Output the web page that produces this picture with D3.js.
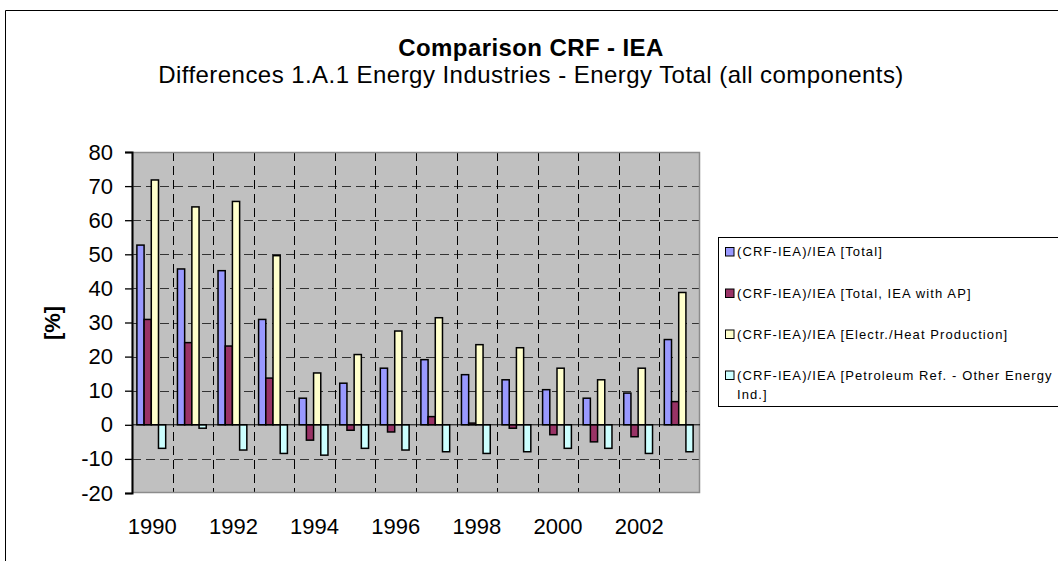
<!DOCTYPE html>
<html>
<head>
<meta charset="utf-8">
<script src="https://cdn.jsdelivr.net/npm/d3@7"></script>
<style>
  body { margin: 0; background: #fff; }
  svg { display: block; font-family: "Liberation Sans", Arial, sans-serif; }
</style>
</head>
<body>
<svg id="chart" width="1058" height="561"></svg>
<script>
const years = ["1990","1991","1992","1993","1994","1995","1996","1997","1998","1999","2000","2001","2002","2003"];
const totalVals = [52.7, 45.7, 45.2, 30.9, 7.8, 12.2, 16.6, 19.1, 14.7, 13.2, 10.3, 7.8, 9.3, 25.0];
const totalApVals = [30.9, 24.1, 23.1, 13.7, -4.5, -1.6, -2.1, 2.4, 0.5, -1.0, -2.9, -5.0, -3.5, 6.8];
const electrVals = [71.8, 63.9, 65.5, 49.6, 15.2, 20.6, 27.5, 31.4, 23.5, 22.6, 16.6, 13.2, 16.6, 38.8];
const petrolVals = [-6.9, -1.0, -7.4, -8.4, -8.9, -6.9, -7.4, -7.9, -8.4, -7.9, -6.9, -6.9, -8.4, -7.9];
const yTicks = [-20, -10, 0, 10, 20, 30, 40, 50, 60, 70, 80];
const xTickYears = ["1990","1992","1994","1996","1998","2000","2002"];

const series = [
  { name: "(CRF-IEA)/IEA [Total]", values: totalVals, color: "#9999ff" },
  { name: "(CRF-IEA)/IEA [Total, IEA with AP]", values: totalApVals, color: "#993366" },
  { name: "(CRF-IEA)/IEA [Electr./Heat Production]", values: electrVals, color: "#ffffcc" },
  { name: "(CRF-IEA)/IEA [Petroleum Ref. - Other Energy|Ind.]", values: petrolVals, color: "#ccffff" }
];

const svg = d3.select("#chart");
const plot = { left: 132, right: 700, top: 152, bottom: 493 };
const fontFam = "Liberation Sans, Arial, sans-serif";

// outer chart border (only left/top visible in the crop)
svg.append("path")
  .attr("d", "M5.5,561 L5.5,10.5 L1058,10.5")
  .attr("fill", "none").attr("stroke", "#000").attr("stroke-width", 1);

svg.append("text")
  .attr("x", 531).attr("y", 56)
  .attr("text-anchor", "middle")
  .attr("font-size", 24).attr("font-weight", "bold")
  .attr("letter-spacing", 0.4)
  .text("Comparison CRF - IEA");

svg.append("text")
  .attr("x", 531).attr("y", 82.5)
  .attr("text-anchor", "middle")
  .attr("font-size", 24)
  .attr("letter-spacing", 0.45)
  .text("Differences 1.A.1 Energy Industries - Energy Total (all components)");

const x = d3.scaleBand().domain(years).range([plot.left, plot.right]).padding(0);
const y = d3.scaleLinear().domain([-20, 80]).range([plot.bottom, plot.top]);

svg.append("rect")
  .attr("x", plot.left).attr("y", plot.top)
  .attr("width", plot.right - plot.left).attr("height", plot.bottom - plot.top)
  .attr("fill", "#c0c0c0");

// horizontal gridlines
svg.append("g")
  .selectAll("line")
  .data(yTicks.filter(d => d !== -20 && d !== 0 && d !== 80))
  .join("line")
  .attr("x1", plot.left).attr("x2", plot.right)
  .attr("y1", d => Math.round(y(d)) + 0.5).attr("y2", d => Math.round(y(d)) + 0.5)
  .attr("stroke", "#333").attr("stroke-width", 1)
  .attr("stroke-dasharray", "9 5");

// vertical gridlines at category boundaries
svg.append("g")
  .selectAll("line")
  .data(years.slice(1))
  .join("line")
  .attr("x1", d => Math.round(x(d)) + 0.5).attr("x2", d => Math.round(x(d)) + 0.5)
  .attr("y1", plot.top).attr("y2", plot.bottom)
  .attr("stroke", "#000").attr("stroke-width", 1)
  .attr("stroke-dasharray", "9 5");

// plot border
svg.append("rect")
  .attr("x", plot.left + 0.5).attr("y", plot.top + 0.5)
  .attr("width", plot.right - plot.left - 1).attr("height", plot.bottom - plot.top - 1)
  .attr("fill", "none").attr("stroke", "#8c8c8c").attr("stroke-width", 1.5);

// bars
const barW = 7.2;
const groupOffset = (x.bandwidth() - barW * 4) / 2 - 1;
series.forEach((s, i) => {
  svg.append("g")
    .selectAll("rect")
    .data(s.values)
    .join("rect")
    .attr("x", (d, j) => x(years[j]) + groupOffset + i * barW)
    .attr("y", d => y(Math.max(0, d)))
    .attr("width", barW)
    .attr("height", d => Math.abs(y(d) - y(0)))
    .attr("fill", s.color)
    .attr("stroke", "#000")
    .attr("stroke-width", 1.5);
});

// zero line (category axis)
svg.append("line")
  .attr("x1", plot.left).attr("x2", plot.right)
  .attr("y1", y(0)).attr("y2", y(0))
  .attr("stroke", "#000").attr("stroke-width", 1);

// y axis
const yAxis = svg.append("g")
  .attr("transform", `translate(${plot.left},0)`)
  .call(d3.axisLeft(y).tickValues(yTicks).tickSize(7).tickPadding(12).tickFormat(d => String(d)));
yAxis.select(".domain").attr("stroke", "#000").attr("stroke-width", 2);
yAxis.selectAll(".tick line").attr("stroke", "#000").attr("stroke-width", 1.3);
yAxis.selectAll("text").attr("font-size", 22).attr("font-family", fontFam).attr("fill", "#000");

// x labels
const xAxis = svg.append("g")
  .attr("transform", `translate(0,${plot.bottom})`)
  .call(d3.axisBottom(x).tickValues(xTickYears).tickSize(0).tickPadding(25));
xAxis.select(".domain").remove();
xAxis.selectAll("text").attr("font-size", 22).attr("font-family", fontFam).attr("fill", "#000");

svg.append("text")
  .attr("transform", "translate(60,323) rotate(-90)")
  .attr("text-anchor", "middle")
  .attr("font-size", 22).attr("font-weight", "bold")
  .text("[%]");

// legend
const legend = svg.append("g");
legend.append("rect")
  .attr("x", 718.5).attr("y", 237.5)
  .attr("width", 400).attr("height", 169)
  .attr("fill", "#fff").attr("stroke", "#000").attr("stroke-width", 1);

const legendY = [251.5, 293, 334, 375];
series.forEach((s, i) => {
  const g = legend.append("g").attr("transform", `translate(0,${legendY[i]})`);
  g.append("rect")
    .attr("x", 725.5).attr("y", -4).attr("width", 8.5).attr("height", 8.5)
    .attr("fill", s.color).attr("stroke", "#000").attr("stroke-width", 1);
  const lines = s.name.split("|");
  lines.forEach((t, k) => {
    g.append("text")
      .attr("x", 737).attr("y", 4.5 + k * 19)
      .attr("font-size", 13).attr("letter-spacing", 1.1)
      .text(t);
  });
});
</script>
</body>
</html>
